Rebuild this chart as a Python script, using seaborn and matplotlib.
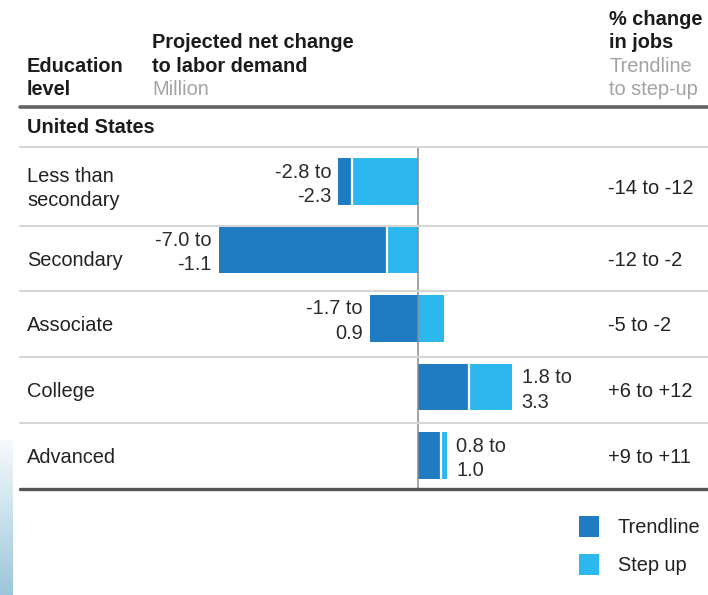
import numpy as np
import pandas as pd
import matplotlib
matplotlib.use("Agg")
import matplotlib.pyplot as plt
from matplotlib.patches import Patch
from matplotlib.lines import Line2D
from matplotlib.colors import LinearSegmentedColormap
import seaborn as sns

# ---------------- data ----------------
levels = ["Less than\nsecondary", "Secondary", "Associate", "College", "Advanced"]
trendline = [-2.8, -7.0, -1.7, 1.8, 0.8]
step_up = [-2.3, -1.1, 0.9, 3.3, 1.0]
pct_change = ["-14 to -12", "-12 to -2", "-5 to -2", "+6 to +12", "+9 to +11"]
region = "United States"
legend_labels = ["Trendline", "Step up"]

TREND = "#1f7bc2"
STEP = "#2cb7ee"

# ---------------- style ----------------
sns.set_style("white")
plt.rcParams["font.family"] = ["Liberation Sans", "DejaVu Sans"]
FS = 14.4

W, H = 708, 595
fig = plt.figure(figsize=(W / 100, H / 100), dpi=100)
fig.patch.set_facecolor("white")


def fx(px):
    return px / W


def fy(py):
    return 1 - py / H


# axes spanning full figure; data scale mapped to pixel layout
ax = fig.add_axes([0, 0, 1, 1])
ZERO_PX, X_SCALE = 418, 28.5      # px of zero, px per million
Y0_PX, Y_STEP = 181.5, 68.5       # px of first bar centre, px per row
BAR_H = 0.686

# build drawing table: larger-magnitude bar behind, smaller in front
rows = []
for lv, t, s in zip(levels, trendline, step_up):
    if abs(t) >= abs(s):
        back, bc, front, fc = t, TREND, s, STEP
    else:
        back, bc, front, fc = s, STEP, t, TREND
    rows.append(dict(level=lv, trend=t, step=s, back=back, back_c=bc,
                     front=front, front_c=fc))
df = pd.DataFrame(rows)

sns.barplot(data=df, x="back", y="level", hue="level", order=levels,
            palette=dict(zip(df.level, df.back_c)), orient="h", width=BAR_H,
            saturation=1, errorbar=None, legend=False, ax=ax, linewidth=0)
sns.barplot(data=df, x="front", y="level", hue="level", order=levels,
            palette=dict(zip(df.level, df.front_c)), orient="h", width=BAR_H,
            saturation=1, errorbar=None, legend=False, ax=ax, linewidth=0)

# white separators between segments of the same sign
for i, r in df.iterrows():
    if np.sign(r.trend) == np.sign(r.step):
        ax.vlines(r.front, i - BAR_H / 2, i + BAR_H / 2, color="white",
                  lw=1.6, zorder=4)

ax.set_xlim(-ZERO_PX / X_SCALE, (W - ZERO_PX) / X_SCALE)
ax.set_ylim((H - Y0_PX) / Y_STEP, -Y0_PX / Y_STEP)
ax.axis("off")

# zero line
ax.axvline(0, ymin=fy(489), ymax=fy(147), color="#8a8a8a", lw=1.1, zorder=6)

# value labels next to bars
for i, r in df.iterrows():
    lo = min(r.trend, r.step, 0)
    hi = max(r.trend, r.step, 0)
    l1, l2 = f"{r.trend:.1f} to", f"{r.step:.1f}"
    if lo < 0:
        x, ha, off = lo, "right", -5.0
    else:
        x, ha, off = hi, "left", 7.0
    for txt, dpx in ((l1, -4.0), (l2, 20.5)):
        ax.annotate(txt, xy=(x, i + dpx / Y_STEP), xytext=(off, 0),
                    textcoords="offset points", ha=ha, va="baseline",
                    fontsize=FS, color="#2b2b2b")

# ---------------- table text / lines ----------------
BOLD = "#1c1c1c"
GREY = "#a3a3a3"
header = [
    (27, 72, "Education", BOLD, "bold"), (27, 95, "level", BOLD, "bold"),
    (152, 48, "Projected net change", BOLD, "bold"),
    (152, 72, "to labor demand", BOLD, "bold"),
    (152, 95, "Million", GREY, "normal"),
    (609, 25, "% change", BOLD, "bold"), (609, 48, "in jobs", BOLD, "bold"),
    (609, 72, "Trendline", GREY, "normal"),
    (609, 95, "to step-up", GREY, "normal"),
    (27, 133, region, BOLD, "bold"),
]
for px, py, txt, c, w in header:
    fig.text(fx(px), fy(py), txt, color=c, fontweight=w, fontsize=FS,
             ha="left", va="baseline")

seps = [147, 226, 291, 357, 423, 489]
for k, (lv, pc) in enumerate(zip(levels, pct_change)):
    mid = (seps[k] + seps[k + 1]) / 2
    lines = lv.split("\n")
    n = len(lines)
    for j, ln in enumerate(lines):
        base = mid + 7 + (j - (n - 1) / 2) * 24
        fig.text(fx(27), fy(base), ln, fontsize=FS, color="#222222",
                 ha="left", va="baseline")
    fig.text(fx(608), fy(mid + 7), pc, fontsize=FS, color="#222222",
             ha="left", va="baseline")

# horizontal rules
fig.add_artist(Line2D([fx(20), 1], [fy(107), fy(107)], color="#656565",
                      lw=2.6, transform=fig.transFigure))
for s in seps[:-1]:
    fig.add_artist(Line2D([fx(20), 1], [fy(s), fy(s)], color="#d6d6d6",
                          lw=1.5, transform=fig.transFigure))
fig.add_artist(Line2D([fx(20), 1], [fy(489), fy(489)], color="#555555",
                      lw=2.4, transform=fig.transFigure))

# legend
handles = [Patch(facecolor=TREND, edgecolor="none", label=legend_labels[0]),
           Patch(facecolor=STEP, edgecolor="none", label=legend_labels[1])]
leg = fig.legend(handles=handles, loc="upper left",
                 bbox_to_anchor=(fx(579), fy(516)), frameon=False,
                 fontsize=FS, handlelength=1.0, handleheight=1.2,
                 handletextpad=0.95, labelspacing=0.85, borderpad=0,
                 borderaxespad=0)
for t in leg.get_texts():
    t.set_color("#222222")
for p in leg.get_patches():
    p.set_width(20 * 72 / 100)

# faint slide-background gradient strip at the bottom-left edge
gax = fig.add_axes([0, 0, fx(13), (H - 440) / H])
grad = np.linspace(0, 1, 256).reshape(-1, 1)
cmap = LinearSegmentedColormap.from_list("g", ["#f6fafc", "#9cc6da"])
gax.imshow(grad, aspect="auto", cmap=cmap, origin="upper")
gax.axis("off")

fig.savefig("out.png", dpi=100, facecolor="white")
